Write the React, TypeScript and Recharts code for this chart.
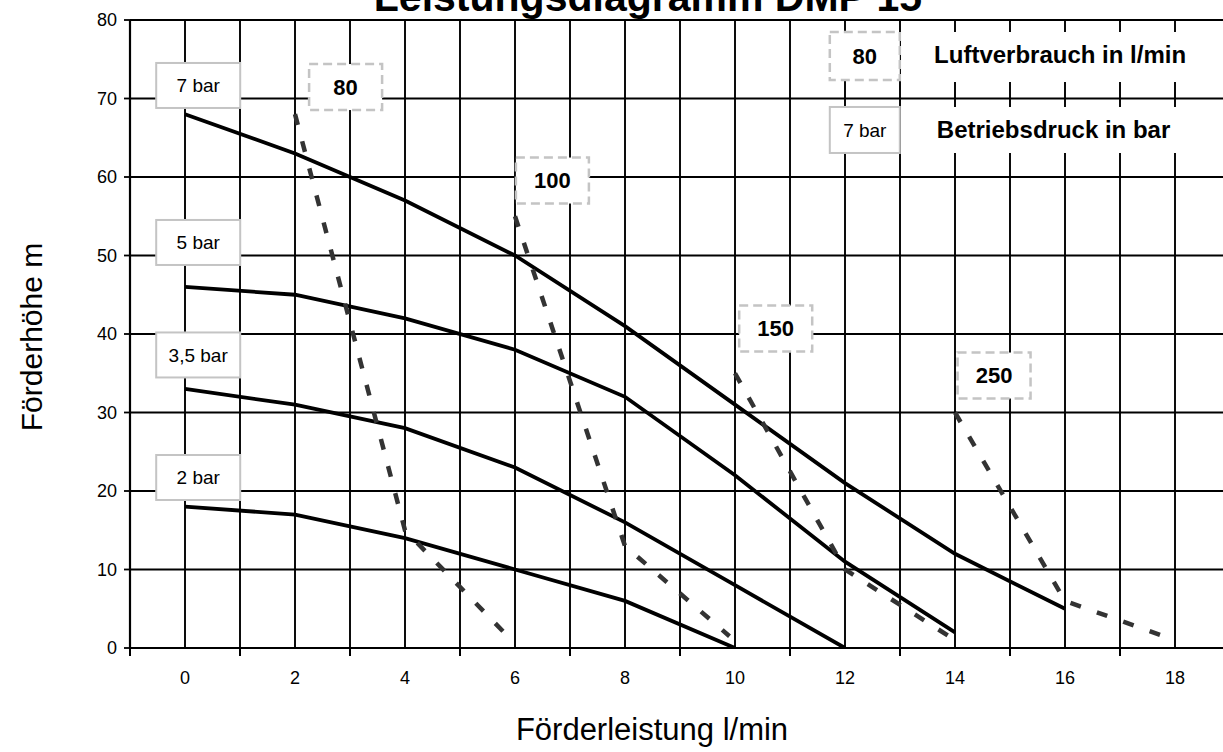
import React from 'react';
import {
  LineChart,
  Line,
  XAxis,
  YAxis,
  CartesianGrid,
  ReferenceDot,
  ReferenceArea,
} from 'recharts';

// ---------- data ----------
const flowX = [0, 2, 4, 6, 8, 10, 12, 14, 16];
const head7bar = [68, 63, 57, 50, 41, 31, 21, 12, 5];
const head5bar = [46, 45, 42, 38, 32, 22, 11, 2];
const head35bar = [33, 31, 28, 23, 16, 8, 0];
const head2bar = [18, 17, 14, 10, 6, 0];

const air80X = [2, 4, 5.8];
const air80Y = [68, 15, 2];
const air100X = [6, 8, 9.9];
const air100Y = [55, 13, 1.5];
const air150X = [10, 12, 14];
const air150Y = [35, 10, 1];
const air250X = [14, 16, 17.8];
const air250Y = [30, 6, 1.5];

const xTicks = Array.from({ length: 21 }, (_, i) => i - 1);
const yTicks = [0, 10, 20, 30, 40, 50, 60, 70, 80];

// annotation anchors (data units)
const pressureLabels = ['7 bar', '5 bar', '3,5 bar', '2 bar'];
const pressureLabelX = [0.24, 0.24, 0.24, 0.24];
const pressureLabelY = [71.66, 51.66, 37.33, 21.72];

const airLabels = ['80', '100', '150', '250'];
const airLabelX = [2.92, 6.68, 10.74, 14.71];
const airLabelY = [71.46, 59.55, 40.7, 34.71];

const legendAirText = 'Luftverbrauch in l/min';
const legendPressText = 'Betriebsdruck in bar';

const FONT = '"Liberation Sans", Arial, Helvetica, sans-serif';

const pts = (xs: number[], ys: number[]) => xs.map((x, i) => ({ x, y: ys[i] }));

const BoxLabel = (props: any) => {
  const { cx, cy, w, h, text, dashed, bold, fontSize } = props;
  if (cx == null || cy == null) return null;
  return (
    <g>
      <rect
        x={cx - w / 2}
        y={cy - h / 2}
        width={w}
        height={h}
        fill="#fff"
        stroke="#c4c4c4"
        strokeWidth={dashed ? 2.5 : 2}
        strokeDasharray={dashed ? '9 5' : undefined}
      />
      <text
        x={cx}
        y={cy}
        dy="0.35em"
        textAnchor="middle"
        fontFamily={FONT}
        fontSize={fontSize}
        fontWeight={bold ? 'bold' : 'normal'}
        fill="#000"
      >
        {text}
      </text>
    </g>
  );
};

const LegendText = (props: any) => {
  const { cx, cy, text } = props;
  if (cx == null || cy == null) return null;
  return (
    <text x={cx} y={cy} dy="0.35em" textAnchor="start" fontFamily={FONT} fontSize={24} fontWeight="bold" fill="#000">
      {text}
    </text>
  );
};

const XTick = (props: any) => {
  const { x, y, payload } = props;
  const v = payload.value;
  if (Math.abs(v % 2) === 1) {
    return <line x1={x} x2={x} y1={y} y2={y + 8} stroke="#000" strokeWidth={2} />;
  }
  return (
    <text x={x} y={y + 36} textAnchor="middle" fontFamily={FONT} fontSize={18} fill="#000">
      {v}
    </text>
  );
};

export default function App() {
  const solid = { stroke: '#000', strokeWidth: 3.8, dot: false, isAnimationActive: false, type: 'linear' as const };
  const dashed = {
    stroke: '#333',
    strokeWidth: 4.5,
    strokeDasharray: '11 17',
    dot: false,
    isAnimationActive: false,
    type: 'linear' as const,
  };
  return (
    <div
      style={{
        position: 'absolute',
        left: 0,
        top: 0,
        width: 1223,
        height: 752,
        overflow: 'hidden',
        background: '#fff',
      }}
    >
      <LineChart width={1240} height={752} margin={{ top: 20, right: 10, bottom: 74, left: 70 }}>
        <CartesianGrid stroke="#000" strokeWidth={1.9} />
        <XAxis
          dataKey="x"
          type="number"
          domain={[-1, 19]}
          allowDataOverflow
          ticks={xTicks}
          interval={0}
          tickLine={false}
          tickSize={0}
          tickMargin={0}
          height={30}
          axisLine={{ stroke: '#000', strokeWidth: 2.2 }}
          tick={<XTick />}
        />
        <YAxis
          type="number"
          domain={[0, 80]}
          allowDataOverflow
          ticks={yTicks}
          interval={0}
          width={60}
          tickSize={6}
          tickMargin={7}
          axisLine={{ stroke: '#000', strokeWidth: 2.2 }}
          tickLine={{ stroke: '#000', strokeWidth: 1.8 }}
          tick={{ fontSize: 18, fill: '#000', fontFamily: FONT }}
        />
        <ReferenceArea x1={13.09} x2={19} y1={72.1} y2={78.47} fill="#fff" fillOpacity={1} stroke="none" />
        <ReferenceArea x1={13.09} x2={19} y1={63.06} y2={68.92} fill="#fff" fillOpacity={1} stroke="none" />

        <Line data={pts(flowX, head7bar)} dataKey="y" {...solid} />
        <Line data={pts(flowX.slice(0, head5bar.length), head5bar)} dataKey="y" {...solid} />
        <Line data={pts(flowX.slice(0, head35bar.length), head35bar)} dataKey="y" {...solid} />
        <Line data={pts(flowX.slice(0, head2bar.length), head2bar)} dataKey="y" {...solid} />

        <Line data={pts(air80X, air80Y)} dataKey="y" {...dashed} />
        <Line data={pts(air100X, air100Y)} dataKey="y" {...dashed} />
        <Line data={pts(air150X, air150Y)} dataKey="y" {...dashed} />
        <Line data={pts(air250X, air250Y)} dataKey="y" {...dashed} />

        {pressureLabels.map((t, i) => (
          <ReferenceDot
            key={'p' + i}
            x={pressureLabelX[i]}
            y={pressureLabelY[i]}
            r={1}
            shape={(p: any) => <BoxLabel cx={p.cx} cy={p.cy} w={84} h={45} text={t} fontSize={19} />}
          />
        ))}
        {airLabels.map((t, i) => (
          <ReferenceDot
            key={'a' + i}
            x={airLabelX[i]}
            y={airLabelY[i]}
            r={1}
            shape={(p: any) => <BoxLabel cx={p.cx} cy={p.cy} w={73} h={46} text={t} dashed bold fontSize={22} />}
          />
        ))}
        <ReferenceDot
          x={12.36}
          y={75.41}
          r={1}
          shape={(p: any) => <BoxLabel cx={p.cx} cy={p.cy} w={70} h={48} text={airLabels[0]} dashed bold fontSize={22} />}
        />
        <ReferenceDot
          x={12.36}
          y={65.99}
          r={1}
          shape={(p: any) => <BoxLabel cx={p.cx} cy={p.cy} w={70} h={46} text={pressureLabels[0]} fontSize={19} />}
        />
        <ReferenceDot x={13.62} y={75.54} r={1} shape={(p: any) => <LegendText cx={p.cx} cy={p.cy} text={legendAirText} />} />
        <ReferenceDot x={13.67} y={65.99} r={1} shape={(p: any) => <LegendText cx={p.cx} cy={p.cy} text={legendPressText} />} />
      </LineChart>
      <svg
        width={1223}
        height={752}
        style={{ position: 'absolute', left: 0, top: 0, pointerEvents: 'none' }}
      >
        <text x={648} y={11} textAnchor="middle" fontFamily={FONT} fontSize={41} fontWeight="bold" fill="#000">
          Leistungsdiagramm DMP 15
        </text>
        <text
          x={42}
          y={337}
          transform="rotate(-90, 42, 337)"
          textAnchor="middle"
          fontFamily={FONT}
          fontSize={30}
          fill="#000"
        >
          Förderhöhe m
        </text>
        <text x={652} y={740} textAnchor="middle" fontFamily={FONT} fontSize={31} fill="#000">
          Förderleistung l/min
        </text>
      </svg>
    </div>
  );
}
